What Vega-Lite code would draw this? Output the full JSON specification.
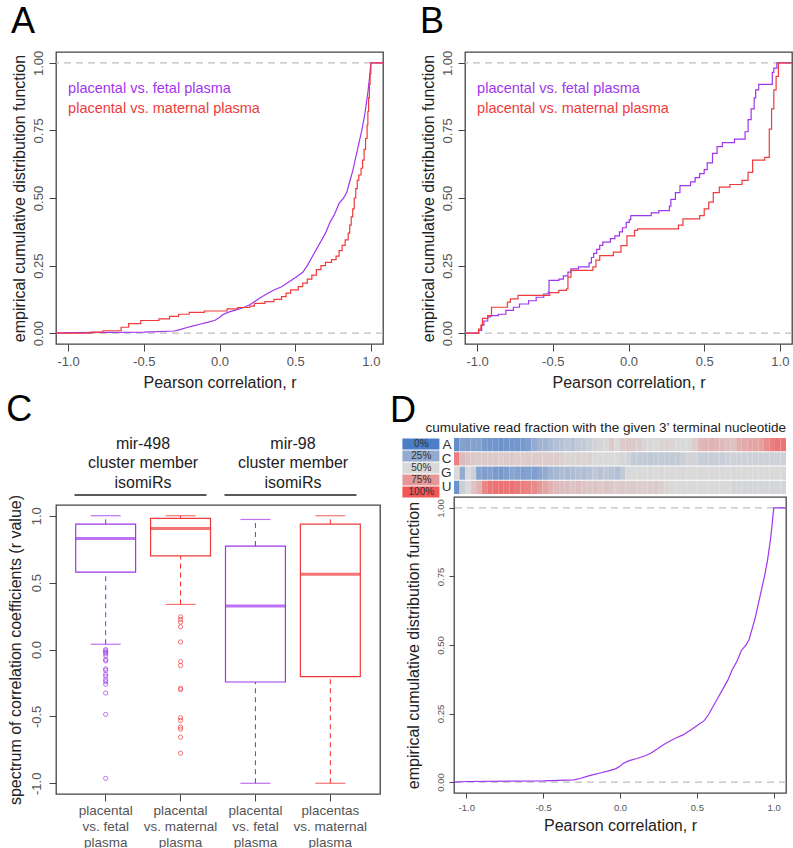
{
"$schema": "https://vega.github.io/schema/vega-lite/v6.json",
"background": "white",
"padding": {"left": 6, "top": 3, "right": 0, "bottom": 0},
"config": {
  "font": "Liberation Sans",
  "view": {"stroke": "#444", "strokeWidth": 1.3},
  "axis": {"domain": false, "grid": false, "ticks": true, "tickColor": "#444", "tickSize": 7, "tickWidth": 1, "labelColor": "#555", "labelFontSize": 13, "titleFontSize": 16, "titleFontWeight": "normal", "titleColor": "#222", "labelPadding": 3},
  "title": {"fontSize": 36, "fontWeight": "normal", "anchor": "start", "color": "#000"}
},
"datasets": {
  "ecdfA": [
    {"cmp":"fetal","r":-1.08,"F":0},{"cmp":"fetal","r":-1.0,"F":0.002},{"cmp":"fetal","r":-0.5,"F":0.004},{"cmp":"fetal","r":-0.3,"F":0.008},{"cmp":"fetal","r":-0.26,"F":0.013},{"cmp":"fetal","r":-0.22,"F":0.02},{"cmp":"fetal","r":-0.18,"F":0.026},{"cmp":"fetal","r":-0.13,"F":0.033},{"cmp":"fetal","r":-0.08,"F":0.04},{"cmp":"fetal","r":-0.03,"F":0.048},{"cmp":"fetal","r":0.0,"F":0.058},{"cmp":"fetal","r":0.02,"F":0.068},{"cmp":"fetal","r":0.06,"F":0.078},{"cmp":"fetal","r":0.11,"F":0.086},{"cmp":"fetal","r":0.16,"F":0.095},{"cmp":"fetal","r":0.2,"F":0.105},{"cmp":"fetal","r":0.24,"F":0.12},{"cmp":"fetal","r":0.28,"F":0.135},{"cmp":"fetal","r":0.32,"F":0.148},{"cmp":"fetal","r":0.36,"F":0.16},{"cmp":"fetal","r":0.41,"F":0.172},{"cmp":"fetal","r":0.46,"F":0.19},{"cmp":"fetal","r":0.5,"F":0.205},{"cmp":"fetal","r":0.55,"F":0.225},{"cmp":"fetal","r":0.58,"F":0.25},{"cmp":"fetal","r":0.61,"F":0.28},{"cmp":"fetal","r":0.64,"F":0.31},{"cmp":"fetal","r":0.67,"F":0.34},{"cmp":"fetal","r":0.7,"F":0.37},{"cmp":"fetal","r":0.73,"F":0.41},{"cmp":"fetal","r":0.76,"F":0.44},{"cmp":"fetal","r":0.79,"F":0.48},{"cmp":"fetal","r":0.82,"F":0.5},{"cmp":"fetal","r":0.84,"F":0.52},{"cmp":"fetal","r":0.86,"F":0.56},{"cmp":"fetal","r":0.88,"F":0.6},{"cmp":"fetal","r":0.9,"F":0.65},{"cmp":"fetal","r":0.92,"F":0.7},{"cmp":"fetal","r":0.94,"F":0.75},{"cmp":"fetal","r":0.96,"F":0.81},{"cmp":"fetal","r":0.98,"F":0.89},{"cmp":"fetal","r":0.99,"F":0.94},{"cmp":"fetal","r":1.0,"F":1.0},{"cmp":"fetal","r":1.08,"F":1.0},
    {"cmp":"maternal","r":-1.08,"F":0},{"cmp":"maternal","r":-0.85,"F":0.004},{"cmp":"maternal","r":-0.77,"F":0.009},{"cmp":"maternal","r":-0.65,"F":0.022},{"cmp":"maternal","r":-0.6,"F":0.035},{"cmp":"maternal","r":-0.52,"F":0.047},{"cmp":"maternal","r":-0.4,"F":0.053},{"cmp":"maternal","r":-0.33,"F":0.062},{"cmp":"maternal","r":-0.27,"F":0.07},{"cmp":"maternal","r":-0.2,"F":0.077},{"cmp":"maternal","r":-0.1,"F":0.082},{"cmp":"maternal","r":0.05,"F":0.09},{"cmp":"maternal","r":0.12,"F":0.095},{"cmp":"maternal","r":0.2,"F":0.1},{"cmp":"maternal","r":0.23,"F":0.11},{"cmp":"maternal","r":0.3,"F":0.117},{"cmp":"maternal","r":0.36,"F":0.125},{"cmp":"maternal","r":0.41,"F":0.135},{"cmp":"maternal","r":0.44,"F":0.148},{"cmp":"maternal","r":0.47,"F":0.16},{"cmp":"maternal","r":0.52,"F":0.172},{"cmp":"maternal","r":0.55,"F":0.185},{"cmp":"maternal","r":0.58,"F":0.2},{"cmp":"maternal","r":0.61,"F":0.215},{"cmp":"maternal","r":0.64,"F":0.235},{"cmp":"maternal","r":0.67,"F":0.25},{"cmp":"maternal","r":0.7,"F":0.262},{"cmp":"maternal","r":0.74,"F":0.272},{"cmp":"maternal","r":0.77,"F":0.285},{"cmp":"maternal","r":0.79,"F":0.305},{"cmp":"maternal","r":0.81,"F":0.325},{"cmp":"maternal","r":0.83,"F":0.345},{"cmp":"maternal","r":0.85,"F":0.37},{"cmp":"maternal","r":0.86,"F":0.4},{"cmp":"maternal","r":0.87,"F":0.43},{"cmp":"maternal","r":0.88,"F":0.46},{"cmp":"maternal","r":0.89,"F":0.5},{"cmp":"maternal","r":0.9,"F":0.535},{"cmp":"maternal","r":0.91,"F":0.565},{"cmp":"maternal","r":0.92,"F":0.585},{"cmp":"maternal","r":0.935,"F":0.61},{"cmp":"maternal","r":0.945,"F":0.64},{"cmp":"maternal","r":0.955,"F":0.68},{"cmp":"maternal","r":0.965,"F":0.72},{"cmp":"maternal","r":0.975,"F":0.77},{"cmp":"maternal","r":0.98,"F":0.82},{"cmp":"maternal","r":0.985,"F":0.87},{"cmp":"maternal","r":0.99,"F":0.92},{"cmp":"maternal","r":0.995,"F":0.96},{"cmp":"maternal","r":1.0,"F":1.0},{"cmp":"maternal","r":1.08,"F":1.0}
  ],
  "ecdfB": [
    {"cmp":"fetal","r":-1.08,"F":0},{"cmp":"fetal","r":-0.99,"F":0.01},{"cmp":"fetal","r":-0.97,"F":0.03},{"cmp":"fetal","r":-0.955,"F":0.045},{"cmp":"fetal","r":-0.93,"F":0.06},{"cmp":"fetal","r":-0.91,"F":0.065},{"cmp":"fetal","r":-0.86,"F":0.07},{"cmp":"fetal","r":-0.81,"F":0.084},{"cmp":"fetal","r":-0.76,"F":0.096},{"cmp":"fetal","r":-0.72,"F":0.108},{"cmp":"fetal","r":-0.66,"F":0.12},{"cmp":"fetal","r":-0.61,"F":0.133},{"cmp":"fetal","r":-0.56,"F":0.145},{"cmp":"fetal","r":-0.53,"F":0.152},{"cmp":"fetal","r":-0.525,"F":0.195},{"cmp":"fetal","r":-0.46,"F":0.2},{"cmp":"fetal","r":-0.43,"F":0.212},{"cmp":"fetal","r":-0.4,"F":0.226},{"cmp":"fetal","r":-0.38,"F":0.238},{"cmp":"fetal","r":-0.33,"F":0.245},{"cmp":"fetal","r":-0.26,"F":0.26},{"cmp":"fetal","r":-0.245,"F":0.28},{"cmp":"fetal","r":-0.23,"F":0.295},{"cmp":"fetal","r":-0.21,"F":0.31},{"cmp":"fetal","r":-0.19,"F":0.325},{"cmp":"fetal","r":-0.17,"F":0.337},{"cmp":"fetal","r":-0.12,"F":0.35},{"cmp":"fetal","r":-0.09,"F":0.36},{"cmp":"fetal","r":-0.06,"F":0.375},{"cmp":"fetal","r":-0.04,"F":0.39},{"cmp":"fetal","r":-0.015,"F":0.41},{"cmp":"fetal","r":0.005,"F":0.42},{"cmp":"fetal","r":0.015,"F":0.435},{"cmp":"fetal","r":0.15,"F":0.445},{"cmp":"fetal","r":0.2,"F":0.453},{"cmp":"fetal","r":0.27,"F":0.47},{"cmp":"fetal","r":0.28,"F":0.495},{"cmp":"fetal","r":0.31,"F":0.52},{"cmp":"fetal","r":0.34,"F":0.546},{"cmp":"fetal","r":0.41,"F":0.56},{"cmp":"fetal","r":0.44,"F":0.575},{"cmp":"fetal","r":0.47,"F":0.59},{"cmp":"fetal","r":0.5,"F":0.605},{"cmp":"fetal","r":0.52,"F":0.63},{"cmp":"fetal","r":0.555,"F":0.665},{"cmp":"fetal","r":0.585,"F":0.69},{"cmp":"fetal","r":0.62,"F":0.705},{"cmp":"fetal","r":0.7,"F":0.718},{"cmp":"fetal","r":0.77,"F":0.745},{"cmp":"fetal","r":0.79,"F":0.79},{"cmp":"fetal","r":0.81,"F":0.83},{"cmp":"fetal","r":0.83,"F":0.87},{"cmp":"fetal","r":0.84,"F":0.9},{"cmp":"fetal","r":0.86,"F":0.92},{"cmp":"fetal","r":0.95,"F":0.965},{"cmp":"fetal","r":0.96,"F":0.98},{"cmp":"fetal","r":0.98,"F":1.0},{"cmp":"fetal","r":1.08,"F":1.0},
    {"cmp":"maternal","r":-1.08,"F":0},{"cmp":"maternal","r":-0.99,"F":0.015},{"cmp":"maternal","r":-0.975,"F":0.03},{"cmp":"maternal","r":-0.965,"F":0.055},{"cmp":"maternal","r":-0.93,"F":0.065},{"cmp":"maternal","r":-0.905,"F":0.096},{"cmp":"maternal","r":-0.8,"F":0.115},{"cmp":"maternal","r":-0.78,"F":0.127},{"cmp":"maternal","r":-0.73,"F":0.14},{"cmp":"maternal","r":-0.52,"F":0.15},{"cmp":"maternal","r":-0.46,"F":0.158},{"cmp":"maternal","r":-0.41,"F":0.164},{"cmp":"maternal","r":-0.4,"F":0.207},{"cmp":"maternal","r":-0.38,"F":0.232},{"cmp":"maternal","r":-0.235,"F":0.245},{"cmp":"maternal","r":-0.215,"F":0.27},{"cmp":"maternal","r":-0.19,"F":0.287},{"cmp":"maternal","r":-0.1,"F":0.3},{"cmp":"maternal","r":-0.05,"F":0.324},{"cmp":"maternal","r":-0.01,"F":0.36},{"cmp":"maternal","r":0.04,"F":0.38},{"cmp":"maternal","r":0.06,"F":0.386},{"cmp":"maternal","r":0.33,"F":0.4},{"cmp":"maternal","r":0.36,"F":0.423},{"cmp":"maternal","r":0.47,"F":0.435},{"cmp":"maternal","r":0.5,"F":0.46},{"cmp":"maternal","r":0.53,"F":0.485},{"cmp":"maternal","r":0.56,"F":0.52},{"cmp":"maternal","r":0.6,"F":0.54},{"cmp":"maternal","r":0.67,"F":0.55},{"cmp":"maternal","r":0.75,"F":0.565},{"cmp":"maternal","r":0.79,"F":0.595},{"cmp":"maternal","r":0.82,"F":0.64},{"cmp":"maternal","r":0.9,"F":0.65},{"cmp":"maternal","r":0.93,"F":0.755},{"cmp":"maternal","r":0.945,"F":0.83},{"cmp":"maternal","r":0.96,"F":0.9},{"cmp":"maternal","r":0.975,"F":0.95},{"cmp":"maternal","r":0.99,"F":1.0},{"cmp":"maternal","r":1.08,"F":1.0}
  ],
  "boxes": [
    {"g":"mir-498|placental|vs. fetal|plasma","cmp":"fetal","lo":0.039,"q1":0.578,"med":0.83,"q3":0.937,"hi":1.0},
    {"g":"mir-498|placental|vs. maternal|plasma","cmp":"maternal","lo":0.337,"q1":0.70,"med":0.905,"q3":0.98,"hi":1.0},
    {"g":"mir-98|placental|vs. fetal|plasma","cmp":"fetal","lo":-1.0,"q1":-0.243,"med":0.326,"q3":0.773,"hi":0.972},
    {"g":"mir-98|placentas|vs. maternal|plasma","cmp":"maternal","lo":-1.0,"q1":-0.203,"med":0.563,"q3":0.937,"hi":1.0}
  ],
  "outliers": [
    {"g":"mir-498|placental|vs. fetal|plasma","cmp":"fetal","r":-0.001},{"g":"mir-498|placental|vs. fetal|plasma","cmp":"fetal","r":-0.01},{"g":"mir-498|placental|vs. fetal|plasma","cmp":"fetal","r":-0.02},{"g":"mir-498|placental|vs. fetal|plasma","cmp":"fetal","r":-0.03},{"g":"mir-498|placental|vs. fetal|plasma","cmp":"fetal","r":-0.045},{"g":"mir-498|placental|vs. fetal|plasma","cmp":"fetal","r":-0.075},{"g":"mir-498|placental|vs. fetal|plasma","cmp":"fetal","r":-0.085},{"g":"mir-498|placental|vs. fetal|plasma","cmp":"fetal","r":-0.145},{"g":"mir-498|placental|vs. fetal|plasma","cmp":"fetal","r":-0.155},{"g":"mir-498|placental|vs. fetal|plasma","cmp":"fetal","r":-0.185},{"g":"mir-498|placental|vs. fetal|plasma","cmp":"fetal","r":-0.2},{"g":"mir-498|placental|vs. fetal|plasma","cmp":"fetal","r":-0.225},{"g":"mir-498|placental|vs. fetal|plasma","cmp":"fetal","r":-0.24},{"g":"mir-498|placental|vs. fetal|plasma","cmp":"fetal","r":-0.26},{"g":"mir-498|placental|vs. fetal|plasma","cmp":"fetal","r":-0.325},{"g":"mir-498|placental|vs. fetal|plasma","cmp":"fetal","r":-0.485},{"g":"mir-498|placental|vs. fetal|plasma","cmp":"fetal","r":-0.963},
    {"g":"mir-498|placental|vs. maternal|plasma","cmp":"maternal","r":0.245},{"g":"mir-498|placental|vs. maternal|plasma","cmp":"maternal","r":0.225},{"g":"mir-498|placental|vs. maternal|plasma","cmp":"maternal","r":0.205},{"g":"mir-498|placental|vs. maternal|plasma","cmp":"maternal","r":0.17},{"g":"mir-498|placental|vs. maternal|plasma","cmp":"maternal","r":0.056},{"g":"mir-498|placental|vs. maternal|plasma","cmp":"maternal","r":-0.09},{"g":"mir-498|placental|vs. maternal|plasma","cmp":"maternal","r":-0.12},{"g":"mir-498|placental|vs. maternal|plasma","cmp":"maternal","r":-0.29},{"g":"mir-498|placental|vs. maternal|plasma","cmp":"maternal","r":-0.3},{"g":"mir-498|placental|vs. maternal|plasma","cmp":"maternal","r":-0.51},{"g":"mir-498|placental|vs. maternal|plasma","cmp":"maternal","r":-0.53},{"g":"mir-498|placental|vs. maternal|plasma","cmp":"maternal","r":-0.58},{"g":"mir-498|placental|vs. maternal|plasma","cmp":"maternal","r":-0.595},{"g":"mir-498|placental|vs. maternal|plasma","cmp":"maternal","r":-0.655},{"g":"mir-498|placental|vs. maternal|plasma","cmp":"maternal","r":-0.775}
  ],
  "clusters": [
    {"cluster":"mir-498\ncluster member\nisomiRs","pos":1},{"cluster":"mir-498\ncluster member\nisomiRs","pos":2},
    {"cluster":"mir-98\ncluster member\nisomiRs","pos":3},{"cluster":"mir-98\ncluster member\nisomiRs","pos":4}
  ],
  "heat": [
    {"nt":"A","i":0,"v":0.08},{"nt":"A","i":1,"v":0.2},{"nt":"A","i":2,"v":0.18},{"nt":"A","i":3,"v":0.2},{"nt":"A","i":4,"v":0.2},{"nt":"A","i":5,"v":0.15},{"nt":"A","i":6,"v":0.13},{"nt":"A","i":7,"v":0.13},{"nt":"A","i":8,"v":0.12},{"nt":"A","i":9,"v":0.13},{"nt":"A","i":10,"v":0.14},{"nt":"A","i":11,"v":0.13},{"nt":"A","i":12,"v":0.15},{"nt":"A","i":13,"v":0.18},{"nt":"A","i":14,"v":0.25},{"nt":"A","i":15,"v":0.3},{"nt":"A","i":16,"v":0.3},{"nt":"A","i":17,"v":0.33},{"nt":"A","i":18,"v":0.36},{"nt":"A","i":19,"v":0.38},{"nt":"A","i":20,"v":0.4},{"nt":"A","i":21,"v":0.38},{"nt":"A","i":22,"v":0.42},{"nt":"A","i":23,"v":0.42},{"nt":"A","i":24,"v":0.45},{"nt":"A","i":25,"v":0.47},{"nt":"A","i":26,"v":0.48},{"nt":"A","i":27,"v":0.5},{"nt":"A","i":28,"v":0.56},{"nt":"A","i":29,"v":0.5},{"nt":"A","i":30,"v":0.56},{"nt":"A","i":31,"v":0.57},{"nt":"A","i":32,"v":0.56},{"nt":"A","i":33,"v":0.55},{"nt":"A","i":34,"v":0.52},{"nt":"A","i":35,"v":0.5},{"nt":"A","i":36,"v":0.5},{"nt":"A","i":37,"v":0.52},{"nt":"A","i":38,"v":0.53},{"nt":"A","i":39,"v":0.52},{"nt":"A","i":40,"v":0.5},{"nt":"A","i":41,"v":0.5},{"nt":"A","i":42,"v":0.5},{"nt":"A","i":43,"v":0.55},{"nt":"A","i":44,"v":0.62},{"nt":"A","i":45,"v":0.64},{"nt":"A","i":46,"v":0.65},{"nt":"A","i":47,"v":0.63},{"nt":"A","i":48,"v":0.62},{"nt":"A","i":49,"v":0.6},{"nt":"A","i":50,"v":0.58},{"nt":"A","i":51,"v":0.66},{"nt":"A","i":52,"v":0.68},{"nt":"A","i":53,"v":0.7},{"nt":"A","i":54,"v":0.7},{"nt":"A","i":55,"v":0.72},{"nt":"A","i":56,"v":0.8},{"nt":"A","i":57,"v":0.85},{"nt":"A","i":58,"v":0.88},{"nt":"A","i":59,"v":0.88},
    {"nt":"C","i":0,"v":0.85},{"nt":"C","i":1,"v":0.62},{"nt":"C","i":2,"v":0.58},{"nt":"C","i":3,"v":0.57},{"nt":"C","i":4,"v":0.56},{"nt":"C","i":5,"v":0.56},{"nt":"C","i":6,"v":0.56},{"nt":"C","i":7,"v":0.56},{"nt":"C","i":8,"v":0.55},{"nt":"C","i":9,"v":0.56},{"nt":"C","i":10,"v":0.56},{"nt":"C","i":11,"v":0.55},{"nt":"C","i":12,"v":0.55},{"nt":"C","i":13,"v":0.56},{"nt":"C","i":14,"v":0.55},{"nt":"C","i":15,"v":0.55},{"nt":"C","i":16,"v":0.55},{"nt":"C","i":17,"v":0.55},{"nt":"C","i":18,"v":0.55},{"nt":"C","i":19,"v":0.54},{"nt":"C","i":20,"v":0.52},{"nt":"C","i":21,"v":0.52},{"nt":"C","i":22,"v":0.52},{"nt":"C","i":23,"v":0.52},{"nt":"C","i":24,"v":0.52},{"nt":"C","i":25,"v":0.5},{"nt":"C","i":26,"v":0.5},{"nt":"C","i":27,"v":0.5},{"nt":"C","i":28,"v":0.5},{"nt":"C","i":29,"v":0.5},{"nt":"C","i":30,"v":0.48},{"nt":"C","i":31,"v":0.47},{"nt":"C","i":32,"v":0.42},{"nt":"C","i":33,"v":0.42},{"nt":"C","i":34,"v":0.42},{"nt":"C","i":35,"v":0.41},{"nt":"C","i":36,"v":0.42},{"nt":"C","i":37,"v":0.42},{"nt":"C","i":38,"v":0.42},{"nt":"C","i":39,"v":0.42},{"nt":"C","i":40,"v":0.42},{"nt":"C","i":41,"v":0.45},{"nt":"C","i":42,"v":0.47},{"nt":"C","i":43,"v":0.47},{"nt":"C","i":44,"v":0.44},{"nt":"C","i":45,"v":0.44},{"nt":"C","i":46,"v":0.44},{"nt":"C","i":47,"v":0.44},{"nt":"C","i":48,"v":0.44},{"nt":"C","i":49,"v":0.46},{"nt":"C","i":50,"v":0.46},{"nt":"C","i":51,"v":0.46},{"nt":"C","i":52,"v":0.46},{"nt":"C","i":53,"v":0.46},{"nt":"C","i":54,"v":0.46},{"nt":"C","i":55,"v":0.46},{"nt":"C","i":56,"v":0.46},{"nt":"C","i":57,"v":0.46},{"nt":"C","i":58,"v":0.46},{"nt":"C","i":59,"v":0.46},
    {"nt":"G","i":0,"v":0.5},{"nt":"G","i":1,"v":0.25},{"nt":"G","i":2,"v":0.5},{"nt":"G","i":3,"v":0.45},{"nt":"G","i":4,"v":0.2},{"nt":"G","i":5,"v":0.18},{"nt":"G","i":6,"v":0.2},{"nt":"G","i":7,"v":0.16},{"nt":"G","i":8,"v":0.15},{"nt":"G","i":9,"v":0.18},{"nt":"G","i":10,"v":0.22},{"nt":"G","i":11,"v":0.2},{"nt":"G","i":12,"v":0.18},{"nt":"G","i":13,"v":0.2},{"nt":"G","i":14,"v":0.18},{"nt":"G","i":15,"v":0.22},{"nt":"G","i":16,"v":0.25},{"nt":"G","i":17,"v":0.3},{"nt":"G","i":18,"v":0.32},{"nt":"G","i":19,"v":0.35},{"nt":"G","i":20,"v":0.33},{"nt":"G","i":21,"v":0.35},{"nt":"G","i":22,"v":0.37},{"nt":"G","i":23,"v":0.35},{"nt":"G","i":24,"v":0.38},{"nt":"G","i":25,"v":0.4},{"nt":"G","i":26,"v":0.38},{"nt":"G","i":27,"v":0.4},{"nt":"G","i":28,"v":0.38},{"nt":"G","i":29,"v":0.36},{"nt":"G","i":30,"v":0.42},{"nt":"G","i":31,"v":0.5},{"nt":"G","i":32,"v":0.5},{"nt":"G","i":33,"v":0.5},{"nt":"G","i":34,"v":0.5},{"nt":"G","i":35,"v":0.5},{"nt":"G","i":36,"v":0.5},{"nt":"G","i":37,"v":0.5},{"nt":"G","i":38,"v":0.5},{"nt":"G","i":39,"v":0.5},{"nt":"G","i":40,"v":0.5},{"nt":"G","i":41,"v":0.5},{"nt":"G","i":42,"v":0.5},{"nt":"G","i":43,"v":0.5},{"nt":"G","i":44,"v":0.5},{"nt":"G","i":45,"v":0.5},{"nt":"G","i":46,"v":0.5},{"nt":"G","i":47,"v":0.5},{"nt":"G","i":48,"v":0.5},{"nt":"G","i":49,"v":0.5},{"nt":"G","i":50,"v":0.5},{"nt":"G","i":51,"v":0.5},{"nt":"G","i":52,"v":0.5},{"nt":"G","i":53,"v":0.5},{"nt":"G","i":54,"v":0.5},{"nt":"G","i":55,"v":0.5},{"nt":"G","i":56,"v":0.5},{"nt":"G","i":57,"v":0.5},{"nt":"G","i":58,"v":0.5},{"nt":"G","i":59,"v":0.5},
    {"nt":"U","i":0,"v":0.12},{"nt":"U","i":1,"v":0.45},{"nt":"U","i":2,"v":0.5},{"nt":"U","i":3,"v":0.58},{"nt":"U","i":4,"v":0.65},{"nt":"U","i":5,"v":0.82},{"nt":"U","i":6,"v":0.88},{"nt":"U","i":7,"v":0.9},{"nt":"U","i":8,"v":0.9},{"nt":"U","i":9,"v":0.88},{"nt":"U","i":10,"v":0.9},{"nt":"U","i":11,"v":0.87},{"nt":"U","i":12,"v":0.85},{"nt":"U","i":13,"v":0.83},{"nt":"U","i":14,"v":0.8},{"nt":"U","i":15,"v":0.75},{"nt":"U","i":16,"v":0.7},{"nt":"U","i":17,"v":0.65},{"nt":"U","i":18,"v":0.62},{"nt":"U","i":19,"v":0.6},{"nt":"U","i":20,"v":0.6},{"nt":"U","i":21,"v":0.58},{"nt":"U","i":22,"v":0.6},{"nt":"U","i":23,"v":0.58},{"nt":"U","i":24,"v":0.57},{"nt":"U","i":25,"v":0.58},{"nt":"U","i":26,"v":0.56},{"nt":"U","i":27,"v":0.58},{"nt":"U","i":28,"v":0.56},{"nt":"U","i":29,"v":0.55},{"nt":"U","i":30,"v":0.56},{"nt":"U","i":31,"v":0.55},{"nt":"U","i":32,"v":0.56},{"nt":"U","i":33,"v":0.55},{"nt":"U","i":34,"v":0.54},{"nt":"U","i":35,"v":0.55},{"nt":"U","i":36,"v":0.56},{"nt":"U","i":37,"v":0.54},{"nt":"U","i":38,"v":0.52},{"nt":"U","i":39,"v":0.5},{"nt":"U","i":40,"v":0.5},{"nt":"U","i":41,"v":0.5},{"nt":"U","i":42,"v":0.5},{"nt":"U","i":43,"v":0.5},{"nt":"U","i":44,"v":0.5},{"nt":"U","i":45,"v":0.5},{"nt":"U","i":46,"v":0.5},{"nt":"U","i":47,"v":0.5},{"nt":"U","i":48,"v":0.5},{"nt":"U","i":49,"v":0.5},{"nt":"U","i":50,"v":0.48},{"nt":"U","i":51,"v":0.48},{"nt":"U","i":52,"v":0.48},{"nt":"U","i":53,"v":0.48},{"nt":"U","i":54,"v":0.48},{"nt":"U","i":55,"v":0.48},{"nt":"U","i":56,"v":0.48},{"nt":"U","i":57,"v":0.48},{"nt":"U","i":58,"v":0.48},{"nt":"U","i":59,"v":0.48}
  ]
},
"spacing": 0,
"vconcat": [
  {"spacing": 32, "hconcat": [
    {"width": 327, "height": 292, "title": {"text": "A", "offset": 9},
     "layer": [
      {"data": {"values": [{"F": 0}, {"F": 1}]}, "mark": {"type": "rule", "color": "#bdbdbd", "strokeDash": [7, 5], "strokeWidth": 1.2}, "encoding": {"y": {"field": "F", "type": "quantitative", "title": "empirical cumulative distribution function"}}},
      {"data": {"name": "ecdfA"}, "transform": [{"filter": "datum.cmp == 'fetal'"}], "mark": {"type": "line", "strokeWidth": 1.2},
       "encoding": {
        "x": {"field": "r", "type": "quantitative", "scale": {"domain": [-1.08, 1.08], "nice": false, "zero": false}, "title": "Pearson correlation, r", "axis": {"values": [-1, -0.5, 0, 0.5, 1], "format": ".1f", "labelExpr": "replace(datum.label, '\u2212', '-')", "labelPadding": 4, "titlePadding": 6}},
        "y": {"field": "F", "type": "quantitative", "scale": {"domain": [-0.04, 1.04], "nice": false, "zero": false}, "title": "empirical cumulative distribution function", "axis": {"values": [0, 0.25, 0.5, 0.75, 1], "format": ".2f", "labelAngle": -90, "labelAlign": "center", "labelBaseline": "bottom", "labelPadding": 4, "titlePadding": 5}},
        "color": {"field": "cmp", "type": "nominal", "scale": {"domain": ["fetal", "maternal"], "range": ["#9f36ee", "#ef3b3b"]}, "legend": null}}},
      {"data": {"name": "ecdfA"}, "transform": [{"filter": "datum.cmp == 'maternal'"}], "mark": {"type": "line", "interpolate": "step-after", "strokeWidth": 1.2},
       "encoding": {
        "x": {"field": "r", "type": "quantitative", "title": "Pearson correlation, r"},
        "y": {"field": "F", "type": "quantitative", "title": "empirical cumulative distribution function"},
        "color": {"field": "cmp", "type": "nominal", "legend": null}}},
      {"data": {"values": [{}]}, "mark": {"type": "text", "align": "left", "baseline": "middle", "fontSize": 14.5, "color": "#9f36ee"}, "encoding": {"x": {"datum": -1}, "y": {"datum": 0.903}, "text": {"value": "placental vs. fetal plasma"}}},
      {"data": {"values": [{}]}, "mark": {"type": "text", "align": "left", "baseline": "middle", "fontSize": 14.5, "color": "#ef3b3b"}, "encoding": {"x": {"datum": -1}, "y": {"datum": 0.829}, "text": {"value": "placental vs. maternal plasma"}}}
     ]},
    {"width": 327, "height": 292, "title": {"text": "B", "offset": 9},
     "layer": [
      {"data": {"values": [{"F": 0}, {"F": 1}]}, "mark": {"type": "rule", "color": "#bdbdbd", "strokeDash": [7, 5], "strokeWidth": 1.2}, "encoding": {"y": {"field": "F", "type": "quantitative", "title": "empirical cumulative distribution function"}}},
      {"data": {"name": "ecdfB"}, "mark": {"type": "line", "interpolate": "step-after", "strokeWidth": 1.2},
       "encoding": {
        "x": {"field": "r", "type": "quantitative", "scale": {"domain": [-1.08, 1.08], "nice": false, "zero": false}, "title": "Pearson correlation, r", "axis": {"values": [-1, -0.5, 0, 0.5, 1], "format": ".1f", "labelExpr": "replace(datum.label, '\u2212', '-')", "labelPadding": 4, "titlePadding": 6}},
        "y": {"field": "F", "type": "quantitative", "scale": {"domain": [-0.04, 1.04], "nice": false, "zero": false}, "title": "empirical cumulative distribution function", "axis": {"values": [0, 0.25, 0.5, 0.75, 1], "format": ".2f", "labelAngle": -90, "labelAlign": "center", "labelBaseline": "bottom", "labelPadding": 4, "titlePadding": 5}},
        "color": {"field": "cmp", "type": "nominal", "scale": {"domain": ["fetal", "maternal"], "range": ["#9f36ee", "#ef3b3b"]}, "legend": null}}},
      {"data": {"values": [{}]}, "mark": {"type": "text", "align": "left", "baseline": "middle", "fontSize": 14.5, "color": "#9f36ee"}, "encoding": {"x": {"datum": -1}, "y": {"datum": 0.903}, "text": {"value": "placental vs. fetal plasma"}}},
      {"data": {"values": [{}]}, "mark": {"type": "text", "align": "left", "baseline": "middle", "fontSize": 14.5, "color": "#ef3b3b"}, "encoding": {"x": {"datum": -1}, "y": {"datum": 0.829}, "text": {"value": "placental vs. maternal plasma"}}}
     ]}
  ]},
  {"spacing": 9, "hconcat": [
    {"title": {"text": "C", "offset": 7}, "spacing": -3, "vconcat": [
      {"width": 324, "height": 57, "view": {"stroke": null}, "data": {"name": "clusters"},
       "layer": [
        {"mark": {"type": "text", "lineBreak": "\n", "fontSize": 16, "lineHeight": 19.7, "baseline": "middle", "color": "#222"},
         "encoding": {
          "x": {"aggregate": "mean", "field": "pos", "type": "quantitative", "scale": {"domain": [0.34, 4.66], "nice": false, "zero": false}, "axis": null},
          "y": {"datum": 0.9, "type": "quantitative", "scale": {"domain": [0, 1], "nice": false}, "axis": null},
          "text": {"field": "cluster", "type": "nominal"}}},
        {"mark": {"type": "rule", "color": "#222", "strokeWidth": 1.3, "xOffset": -31, "x2Offset": 26},
         "encoding": {
          "x": {"aggregate": "min", "field": "pos", "type": "quantitative", "axis": null},
          "x2": {"aggregate": "max", "field": "pos"},
          "y": {"datum": 0, "type": "quantitative", "axis": null},
          "detail": {"field": "cluster", "type": "nominal"}}}
       ]},
      {"width": 324, "height": 289,
       "layer": [
        {"data": {"name": "boxes"}, "mark": {"type": "rule", "strokeDash": [5, 4], "strokeWidth": 1.1},
         "encoding": {
          "x": {"field": "g", "type": "nominal", "scale": {"type": "band", "domain": ["mir-498|placental|vs. fetal|plasma", "mir-498|placental|vs. maternal|plasma", "mir-98|placental|vs. fetal|plasma", "mir-98|placentas|vs. maternal|plasma"], "paddingInner": 0.2, "paddingOuter": 0.263}, "title": null, "axis": {"labelExpr": "slice(split(datum.label, '|'), 1)", "labelAngle": 0, "labelLineHeight": 16, "labelPadding": 2, "labelFontSize": 13.5}},
          "y": {"field": "q3", "type": "quantitative", "scale": {"domain": [-1.08, 1.08], "nice": false, "zero": false}, "title": "spectrum of correlation coefficients (r value)", "axis": {"values": [-1, -0.5, 0, 0.5, 1], "format": ".1f", "labelExpr": "replace(datum.label, '\u2212', '-')", "labelAngle": -90, "labelAlign": "center", "labelBaseline": "bottom", "labelPadding": 6, "titlePadding": 7}},
          "y2": {"field": "hi"},
          "color": {"field": "cmp", "type": "nominal", "scale": {"domain": ["fetal", "maternal"], "range": ["#9f36ee", "#ef3b3b"]}, "legend": null}}},
        {"data": {"name": "boxes"}, "mark": {"type": "rule", "strokeDash": [5, 4], "strokeWidth": 1.1},
         "encoding": {"x": {"field": "g", "type": "nominal", "title": null}, "y": {"field": "lo", "type": "quantitative", "title": "spectrum of correlation coefficients (r value)"}, "y2": {"field": "q1"}, "color": {"field": "cmp", "type": "nominal", "legend": null}}},
        {"data": {"name": "boxes"}, "mark": {"type": "tick", "size": 30, "thickness": 1.2},
         "encoding": {"x": {"field": "g", "type": "nominal", "title": null}, "y": {"field": "hi", "type": "quantitative", "title": "spectrum of correlation coefficients (r value)"}, "color": {"field": "cmp", "type": "nominal", "legend": null}}},
        {"data": {"name": "boxes"}, "mark": {"type": "tick", "size": 30, "thickness": 1.2},
         "encoding": {"x": {"field": "g", "type": "nominal", "title": null}, "y": {"field": "lo", "type": "quantitative", "title": "spectrum of correlation coefficients (r value)"}, "color": {"field": "cmp", "type": "nominal", "legend": null}}},
        {"data": {"name": "boxes"}, "mark": {"type": "bar", "filled": false, "strokeWidth": 1.2},
         "encoding": {"x": {"field": "g", "type": "nominal", "title": null}, "y": {"field": "q1", "type": "quantitative", "title": "spectrum of correlation coefficients (r value)"}, "y2": {"field": "q3"}, "color": {"field": "cmp", "type": "nominal", "legend": null}}},
        {"data": {"name": "boxes"}, "mark": {"type": "tick", "size": 60, "thickness": 3},
         "encoding": {"x": {"field": "g", "type": "nominal", "title": null}, "y": {"field": "med", "type": "quantitative", "title": "spectrum of correlation coefficients (r value)"}, "color": {"field": "cmp", "type": "nominal", "legend": null}}},
        {"data": {"name": "outliers"}, "mark": {"type": "point", "filled": false, "size": 18, "strokeWidth": 1},
         "encoding": {"x": {"field": "g", "type": "nominal", "title": null}, "y": {"field": "r", "type": "quantitative", "title": "spectrum of correlation coefficients (r value)"}, "color": {"field": "cmp", "type": "nominal", "legend": null}}}
       ]}
    ]},
    {"title": {"text": "D", "offset": -9, "dx": -12}, "spacing": 2, "vconcat": [
      {"width": 332, "height": 56, "view": {"stroke": null}, "data": {"name": "heat"},
       "title": {"text": "cumulative read fraction with the given 3\u2019 terminal nucleotide", "fontSize": 13.5, "anchor": "end", "frame": "group", "offset": 3, "color": "#222"},
       "mark": {"type": "rect"},
       "encoding": {
        "x": {"field": "i", "type": "ordinal", "axis": null, "scale": {"paddingInner": 0, "paddingOuter": 0}},
        "y": {"field": "nt", "type": "nominal", "sort": ["A", "C", "G", "U"], "scale": {"paddingInner": 0.07, "paddingOuter": 0}, "axis": {"title": null, "ticks": false, "domain": false, "labelFontSize": 13.5, "labelColor": "#333", "labelPadding": 3, "minExtent": 0}},
        "color": {"field": "v", "type": "quantitative", "scale": {"domain": [0, 0.5, 1], "range": ["#4c7dc7", "#d9d9d9", "#f25757"], "interpolate": "rgb"},
          "legend": {"type": "symbol", "values": [0, 0.25, 0.5, 0.75, 1], "format": ".0%", "orient": "none", "legendX": -52, "legendY": 0, "title": null, "symbolType": "M-1,-1H5.62V1H-1Z", "symbolSize": 125, "symbolStrokeWidth": 0, "labelAlign": "center", "labelOffset": 7.3, "labelFontSize": 10, "labelColor": "#333", "rowPadding": 0, "padding": 0}}}},
      {"width": 332, "height": 296,
       "layer": [
        {"data": {"values": [{"F": 0}, {"F": 1}]}, "mark": {"type": "rule", "color": "#bdbdbd", "strokeDash": [7, 5], "strokeWidth": 1.2}, "encoding": {"y": {"field": "F", "type": "quantitative", "title": "empirical cumulative distribution function"}}},
        {"data": {"name": "ecdfA"}, "transform": [{"filter": "datum.cmp == 'fetal'"}], "mark": {"type": "line", "strokeWidth": 1.2, "color": "#9f36ee"},
         "encoding": {
          "x": {"field": "r", "type": "quantitative", "scale": {"domain": [-1.08, 1.08], "nice": false, "zero": false}, "title": "Pearson correlation, r", "axis": {"values": [-1, -0.5, 0, 0.5, 1], "format": ".1f", "labelExpr": "replace(datum.label, '\u2212', '-')", "labelFontSize": 9.5, "tickSize": 5, "labelPadding": 4, "titlePadding": 6}},
          "y": {"field": "F", "type": "quantitative", "scale": {"domain": [-0.04, 1.04], "nice": false, "zero": false}, "title": "empirical cumulative distribution function", "axis": {"values": [0, 0.25, 0.5, 0.75, 1], "format": ".2f", "labelFontSize": 9.5, "tickSize": 5, "labelAngle": -90, "labelAlign": "center", "labelBaseline": "bottom", "labelPadding": 4, "titlePadding": 14}}}}
       ]}
    ]}
  ]}
]
}
